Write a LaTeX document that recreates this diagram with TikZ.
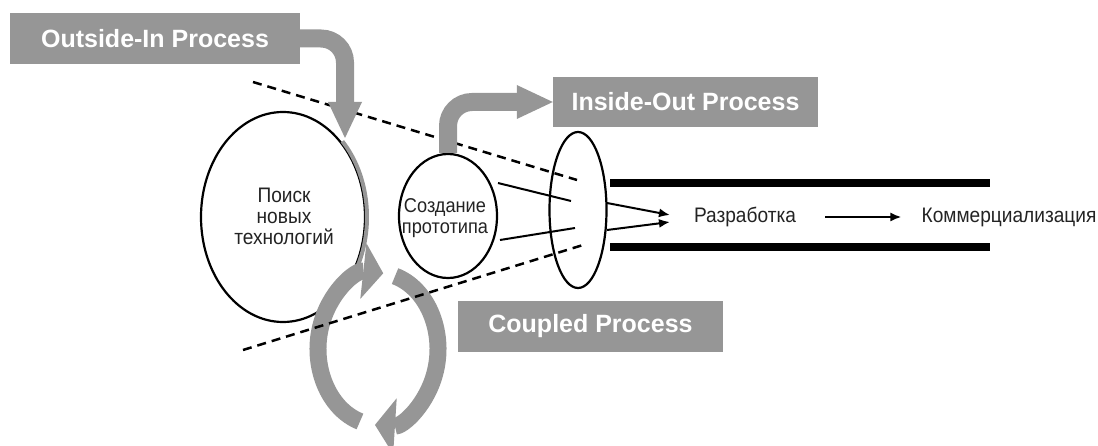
\documentclass[tikz,border=0pt]{standalone}
\usepackage{fontspec}
\setmainfont{Liberation Sans}
\newfontfamily\narrowfont{Liberation Sans}[FakeStretch=0.91]
\usepackage{xcolor}
\usetikzlibrary{arrows.meta,calc,positioning,shapes.geometric}
\definecolor{procgray}{RGB}{150,150,150}
\definecolor{inkgray}{RGB}{35,35,35}
\tikzset{procbox/.style={fill=procgray,text=white,inner sep=0pt,minimum width=265pt,minimum height=50pt,
    font=\fontsize{25}{30}\selectfont\bfseries},
  stage/.style={draw,ellipse,line width=2.2pt,inner sep=0pt},
  stagetext/.style={align=center,text=inkgray,inner sep=2pt,font=\narrowfont\fontsize{21}{21}\selectfont},
  flow/.style={draw=procgray,line width=18pt,rounded corners=24pt,-{Triangle[length=36pt,width=34pt,line width=0pt]}},
  cplarrow/.style={draw=procgray,line width=17pt,-{Triangle[length=20pt,width=56pt,line width=0pt]}},
  guide/.style={line width=2.5pt,dash pattern=on 9pt off 6pt},
  beam/.style={line width=2pt},
  pointer/.style={line width=2pt,-{Latex[length=11pt,width=9pt]}},
  rail/.style={line width=8pt}}

\begin{document}
\begin{tikzpicture}[x=1pt,y=-1pt]
\useasboundingbox (0,0) rectangle (1098,446);
\node[procbox,minimum width=290pt,minimum height=51pt] (oin) at (155,38.5) {Outside-In Process};
\node[procbox] (iout) at (685.5,102) {Inside-Out Process};
\node[procbox,minimum height=51pt] (coupled) at (590.5,326.5) {Coupled Process};
\node[stage,minimum width=164pt,minimum height=210pt] (search) at (283,217) {};
\node[stage,minimum width=98pt,minimum height=124pt] (proto) at (448,216) {};
\node[stage,minimum width=57pt,minimum height=156pt] (lens) at (578,210) {};
\node[stagetext] (searchtxt) at (284,216) {Поиск\\новых\\технологий};
\node[stagetext,font=\narrowfont\fontsize{20}{21}\selectfont] (prototxt) at (445,218) {Создание\\прототипа};
\node[stagetext] (dev) at (745,217) {Разработка};
\node[stagetext] (comm) at (1009,217) {Коммерциализация};
\draw[rail] (610,183) -- (990,183);
\draw[rail] (610,247) -- (990,247);
\coordinate (pa) at (498,183);
\coordinate (pb) at (571,201);
\coordinate (pc) at (500,240);
\coordinate (pd) at (575,228);
\coordinate (la) at (607,203);
\coordinate (lb) at (607,230);
\coordinate (fa) at (670,215);
\coordinate (fb) at (670,222);
\draw[beam] (pa) -- (pb);
\draw[beam] (pc) -- (pd);
\draw[pointer] (la) -- (fa);
\draw[pointer] (lb) -- (fb);
\draw[pointer,shorten <=27pt,shorten >=18pt] (dev) -- (comm);
\draw[procgray,line width=4pt] ($(search.center)+(-45:84 and 107)$) arc[start angle=-45,end angle=30,x radius=84,y radius=107];
\coordinate (cpl) at (378,349);
\draw[cplarrow] ($(cpl)+(107.5:60 and 76)$) arc[start angle=107.5,end angle=275,x radius=60,y radius=76];
\draw[cplarrow] ($(cpl)+(286.5:60 and 76)$) arc[start angle=286.5,end angle=452.9,x radius=60,y radius=76];
\draw[guide] (253,82) -- (577,180);
\draw[guide] (243,350) -- (583,245);
\coordinate (oin tip) at (345,138);
\draw[flow] (oin.east) -| (oin tip);
\draw[flow] (proto.north) |- (iout.west);
\end{tikzpicture}
\end{document}
